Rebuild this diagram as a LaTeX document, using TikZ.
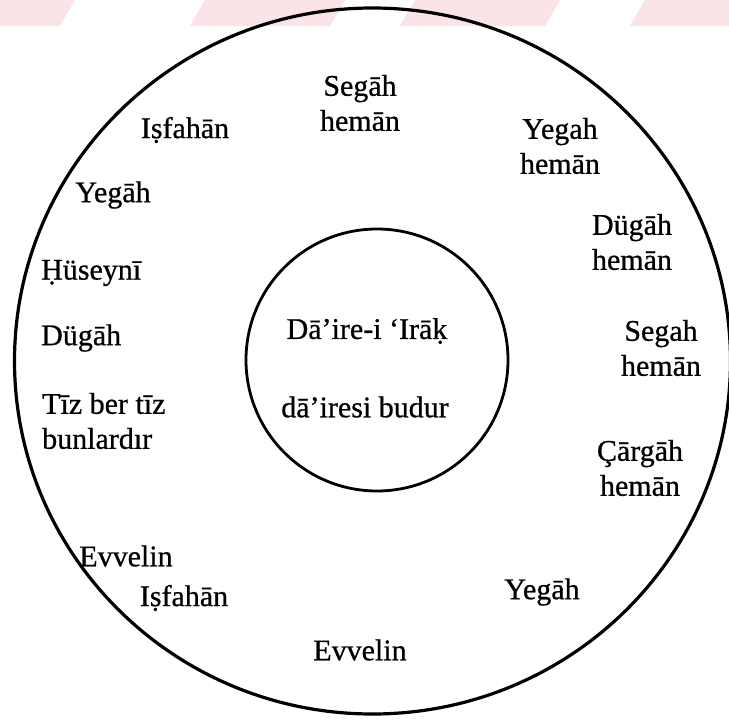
\documentclass[tikz,border=0pt]{standalone}
\usepackage{fontspec}
\setmainfont{Liberation Serif}
\newfontfamily\scanfont{Liberation Serif}[FakeBold=0.7]
\definecolor{wmark}{RGB}{251,228,232}
\begin{document}
\begin{tikzpicture}[x=1pt,y=-1pt,
  lbl/.style={font=\scanfont\fontsize{30}{35}\selectfont, inner sep=0pt, align=center},
  ring/.style={draw=black, line width=3.2pt},
  band/.style={fill=wmark, draw=none}]
\useasboundingbox (0,0) rectangle (729,720);
\fill[white] (0,0) rectangle (729,720);
% faint watermark bands at the top
\fill[band] (0,0) -- (75,0) -- (60,26) -- (0,26) -- cycle;
\fill[band] (205,0) -- (345,0) -- (330,26) -- (190,26) -- cycle;
\fill[band] (415,0) -- (560,0) -- (545,26) -- (400,26) -- cycle;
\fill[band] (645,0) -- (729,0) -- (729,26) -- (630,26) -- cycle;
% circles
\draw[ring] (372.5,361) ellipse [x radius=358, y radius=353];
\node[ring, circle, minimum size=262pt, inner sep=0pt, line width=2.8pt] (inner) at (377,360) {};
% inner text
\node[lbl] (t1) at (367,331) {Dā’ire-i ‘Irāḳ};
\node[lbl] (t2) at (365,407) {dā’iresi budur};
% outer ring texts
\node[lbl] (a1) at (360,103) {Segāh\\hemān};
\node[lbl] (a2) at (560,146) {Yegah\\hemān};
\node[lbl] (a3) at (632,242) {Dügāh\\hemān};
\node[lbl] (a4) at (661,348) {Segah\\hemān};
\node[lbl] (a5) at (640,468) {Çārgāh\\hemān};
\node[lbl] (a6) at (542,592) {Yegāh};
\node[lbl] (a7) at (360,650) {Evvelin};
\node[lbl] (a8) at (184,598) {Iṣfahān};
\node[lbl] (a9) at (126,556) {Evvelin};
\node[lbl, align=left, anchor=west] (a10) at (42,421) {Tīz ber tīz\\bunlardır};
\node[lbl, anchor=west] (a11) at (41,338) {Dügāh};
\node[lbl, anchor=west] (a12) at (41,273) {Ḥüseynī};
\node[lbl] (a13) at (113,195) {Yegāh};
\node[lbl] (a14) at (185,130) {Iṣfahān};
\end{tikzpicture}
\end{document}
